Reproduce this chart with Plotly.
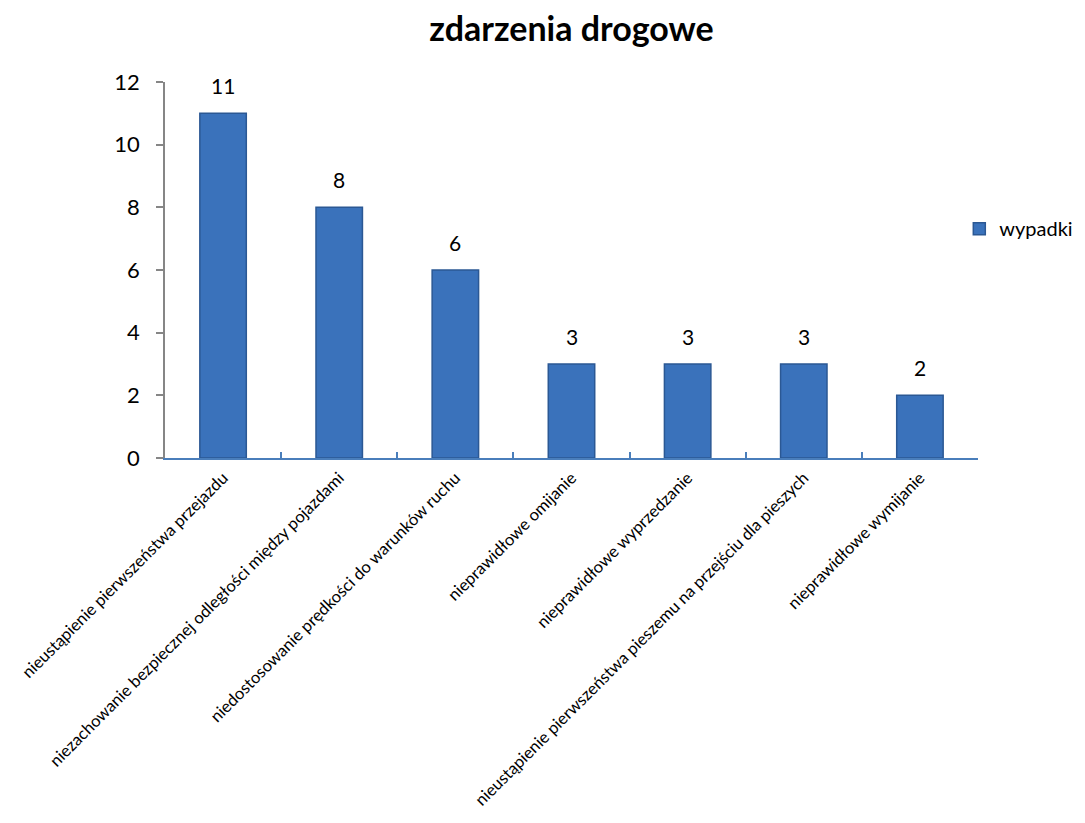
import plotly.graph_objects as go

categories = [
    "nieustąpienie pierwszeństwa przejazdu",
    "niezachowanie bezpiecznej odległości między pojazdami",
    "niedostosowanie prędkości do warunków ruchu",
    "nieprawidłowe omijanie",
    "nieprawidłowe wyprzedzanie",
    "nieustąpienie pierwszeństwa pieszemu na przejściu dla pieszych",
    "nieprawidłowe wymijanie",
]
wypadki = [11, 8, 6, 3, 3, 3, 2]
series_name = "wypadki"
title_text = "zdarzenia drogowe"

FONT = "Lato, 'Open Sans', sans-serif"

fig = go.Figure()
fig.add_trace(go.Bar(
    x=categories,
    y=wypadki,
    name=series_name,
    marker=dict(color="#3a72bb", line=dict(color="#2b5894", width=1.5)),
))

for c, v in zip(categories, wypadki):
    fig.add_annotation(
        x=c, y=v, xref="x", yref="y",
        text=str(v), showarrow=False,
        yanchor="bottom", yshift=13,
        font=dict(size=21, color="black", family=FONT),
    )

fig.update_layout(
    width=1077, height=815,
    paper_bgcolor="white", plot_bgcolor="white",
    margin=dict(l=157, r=107, t=74, b=365, autoexpand=False),
    bargap=0.6,
    showlegend=True,
    title=dict(text="<b>" + title_text + "</b>", x=0.5, xref="paper", xanchor="center",
               y=1 - 21 / 815, yref="container", yanchor="middle",
               font=dict(size=34, color="black", family=FONT)),
    legend=dict(x=0.977, y=0.61, xanchor="left", yanchor="middle",
                font=dict(size=20, color="black", family=FONT),
                bgcolor="rgba(0,0,0,0)"),
    font=dict(family=FONT, color="black"),
)

fig.update_yaxes(
    range=[0, 12], dtick=2, tick0=0,
    showgrid=False, zeroline=False,
    showline=True, linecolor="#868686", linewidth=1.5,
    ticks="outside", ticklen=7, tickcolor="#868686", tickwidth=1.5,
    tickfont=dict(size=22, color="black", family=FONT),
    ticklabelstandoff=12,
)
fig.update_xaxes(
    showgrid=False, zeroline=False,
    showline=True, linecolor="#4a7ebb", linewidth=1.5,
    ticks="inside", ticklen=6, tickcolor="#4a7ebb", tickwidth=1.5,
    tickson="boundaries",
    tickangle=-45,
    tickfont=dict(size=16.6, color="black", family=FONT),
    ticklabelstandoff=2,
)

fig.write_html("out.html")
